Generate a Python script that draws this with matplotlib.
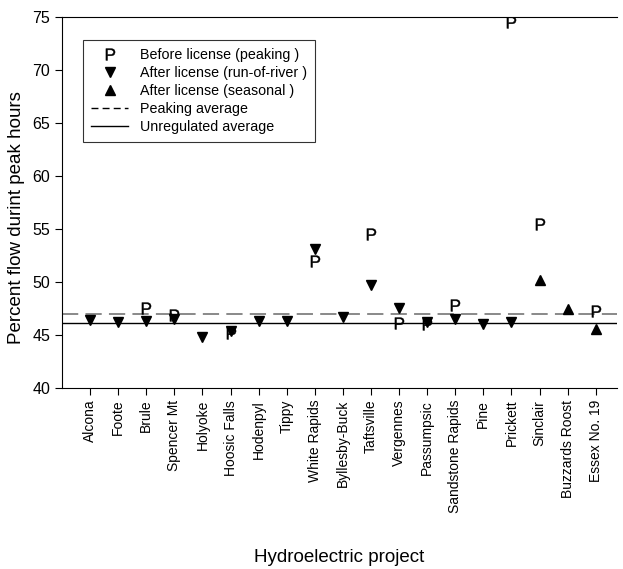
import numpy as np
import matplotlib
matplotlib.use('Agg')
import matplotlib.pyplot as plt
from matplotlib.lines import Line2D

plt.rcParams['font.family'] = ['Liberation Sans', 'DejaVu Sans']

projects = ['Alcona', 'Foote', 'Brule', 'Spencer Mt', 'Holyoke', 'Hoosic Falls',
            'Hodenpyl', 'Tippy', 'White Rapids', 'Byllesby-Buck', 'Taftsville',
            'Vergennes', 'Passumpsic', 'Sandstone Rapids', 'Pine', 'Prickett',
            'Sinclair', 'Buzzards Roost', 'Essex No. 19']

# Before license (peaking), NaN where no value
before = [np.nan, np.nan, 47.6, 46.9, np.nan, 45.2, np.nan, np.nan, 52.0, np.nan,
          54.5, 46.1, 46.0, 47.8, np.nan, 74.5, 55.5, np.nan, 47.3]
# After license (run-of-river)
after_ror = [46.4, 46.25, 46.3, 46.5, 44.8, 45.4, 46.3, 46.3, 53.1, 46.7,
             49.7, 47.6, 46.2, 46.55, 46.0, 46.25, np.nan, np.nan, np.nan]
# After license (seasonal)
after_seasonal = [np.nan] * 16 + [50.2, 47.5, 45.6]

peaking_avg = 47.0
unregulated_avg = 46.1

x = np.arange(len(projects))

fig = plt.figure(figsize=(6.23, 5.69), dpi=100)
ax = fig.add_axes([0.0995, 0.318, 0.8905, 0.652])

ax.axhline(peaking_avg, color='#808080', linestyle=(0, (9, 4)), lw=1.3, zorder=1)
ax.axhline(unregulated_avg, color='black', lw=1.0, zorder=1)

ax.plot(x, after_ror, linestyle='none', marker='v', color='black', markersize=6.5, zorder=3)
ax.plot(x, after_seasonal, linestyle='none', marker='^', color='black', markersize=6.5, zorder=3)
ax.plot(x, before, linestyle='none', marker=r'$\mathregular{P}$', color='black',
        markersize=8.5, markeredgewidth=0.3, zorder=2)

ax.set_xlim(-1.0, 18.75)
ax.set_ylim(40, 75)
ax.set_yticks(range(40, 76, 5))
ax.set_xticks(x)
ax.set_xticklabels(projects, rotation=90, fontsize=10)
ax.tick_params(axis='y', labelsize=11.5, direction='out', length=5)
ax.tick_params(axis='x', direction='out', length=5)
ax.spines['right'].set_visible(False)

ax.set_ylabel('Percent flow durint peak hours', fontsize=13.5)
ax.yaxis.set_label_coords(-0.066, 0.46)
ax.set_xlabel('Hydroelectric project', fontsize=13.5, labelpad=26)

handles = [
    Line2D([], [], linestyle='none', marker=r'$\mathregular{P}$', color='black', markersize=8.5, markeredgewidth=0.3),
    Line2D([], [], linestyle='none', marker='v', color='black', markersize=6.5),
    Line2D([], [], linestyle='none', marker='^', color='black', markersize=6.5),
    Line2D([], [], color='black', linestyle=(0, (5, 3)), lw=1.0),
    Line2D([], [], color='black', lw=1.0),
]
labels = ['Before license (peaking )', 'After license (run-of-river )',
          'After license (seasonal )', 'Peaking average', 'Unregulated average']
leg = ax.legend(handles, labels, loc='upper left', bbox_to_anchor=(0.038, 0.937),
                fontsize=10.3, frameon=True, fancybox=False, edgecolor='black',
                handlelength=2.6, handletextpad=0.85, labelspacing=0.28,
                borderpad=0.55, borderaxespad=0)
leg.get_frame().set_linewidth(0.8)

fig.savefig('out.png', dpi=100)
